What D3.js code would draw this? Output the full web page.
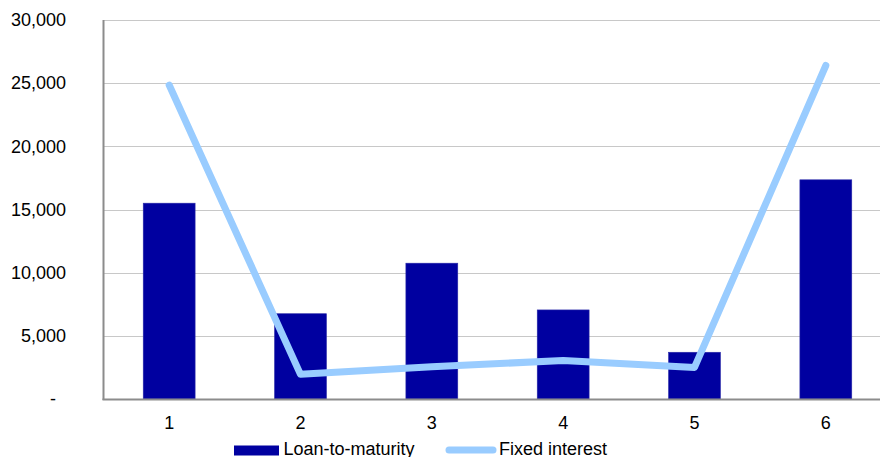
<!DOCTYPE html>
<html>
<head>
<meta charset="utf-8">
<script src="https://cdn.jsdelivr.net/npm/d3@7"></script>
<style>
  html, body { margin: 0; padding: 0; background: #fff; overflow: hidden; }
  text { font-family: "Liberation Sans", Arial, sans-serif; fill: #000; }
</style>
</head>
<body>
<svg id="chart" width="880" height="457"></svg>
<script>
// Periods on the category axis
const categories = ["1", "2", "3", "4", "5", "6"];
// Loan-to-maturity amounts (bars)
const loanToMaturity = [15500, 6750, 10750, 7050, 3700, 17350];
// Fixed interest amounts (line)
const fixedInterest = [24850, 1950, 2550, 3050, 2500, 26400];
// Value axis ticks
const yTicks = [0, 5000, 10000, 15000, 20000, 25000, 30000];
const seriesNames = ["Loan-to-maturity", "Fixed interest"];

const barColor = "#0000a0";
const lineColor = "#99ccff";
const fontSize = 18;

const svg = d3.select("#chart");
const plotLeft = 103.5, plotRight = 891.5, plotTop = 20, plotBottom = 399;

const x = d3.scaleBand()
  .domain(categories)
  .range([plotLeft, plotRight])
  .paddingInner(0.605)
  .paddingOuter(0.3025);

const y = d3.scaleLinear()
  .domain([0, 30000])
  .range([plotBottom, plotTop]);

const fmt = d3.format(",");

// Horizontal gridlines
svg.append("g")
  .selectAll("line")
  .data(yTicks.filter(d => d > 0))
  .join("line")
  .attr("x1", plotLeft)
  .attr("x2", plotRight)
  .attr("y1", d => Math.round(y(d)) + 0.5)
  .attr("y2", d => Math.round(y(d)) + 0.5)
  .attr("stroke", "#c8c8c8")
  .attr("stroke-width", 1.2);

// Value axis labels
const yAxis = d3.axisLeft(y)
  .tickValues(yTicks)
  .tickSize(0)
  .tickPadding(0)
  .tickFormat(d => d === 0 ? "-" : fmt(d));

const yg = svg.append("g")
  .attr("transform", "translate(66,0)")
  .call(yAxis);
yg.select(".domain").remove();
yg.selectAll("text")
  .attr("font-size", fontSize)
  .attr("font-family", "Liberation Sans, Arial, sans-serif")
  .attr("fill", "#000")
  .attr("dx", d => d === 0 ? -10 : 0);

// Bars
svg.append("g")
  .selectAll("rect")
  .data(loanToMaturity)
  .join("rect")
  .attr("x", (d, i) => x(categories[i]))
  .attr("y", d => y(d))
  .attr("width", x.bandwidth())
  .attr("height", d => y(0) - y(d))
  .attr("fill", barColor)
  .attr("stroke", "#2a2aa8")
  .attr("stroke-width", 0.6);

// Axis lines
svg.append("line")
  .attr("x1", plotLeft).attr("x2", plotLeft)
  .attr("y1", plotTop).attr("y2", plotBottom + 1)
  .attr("stroke", "#8c8c8c").attr("stroke-width", 2);
svg.append("line")
  .attr("x1", plotLeft - 1).attr("x2", plotRight)
  .attr("y1", plotBottom + 0.5).attr("y2", plotBottom + 0.5)
  .attr("stroke", "#8c8c8c").attr("stroke-width", 2);

// Fixed interest line
const line = d3.line()
  .x((d, i) => x(categories[i]) + x.bandwidth() / 2)
  .y(d => y(d));

svg.append("path")
  .datum(fixedInterest)
  .attr("d", line)
  .attr("fill", "none")
  .attr("stroke", lineColor)
  .attr("stroke-width", 7)
  .attr("stroke-linejoin", "round")
  .attr("stroke-linecap", "round");

// Category axis labels
const xAxis = d3.axisBottom(x).tickSize(0).tickPadding(0);
const xg = svg.append("g")
  .attr("transform", `translate(0,${plotBottom})`)
  .call(xAxis);
xg.select(".domain").remove();
xg.selectAll("text")
  .attr("font-size", fontSize)
  .attr("font-family", "Liberation Sans, Arial, sans-serif")
  .attr("fill", "#000")
  .attr("dy", null)
  .attr("y", 29.5);

// Legend
const legend = svg.append("g");
legend.append("rect")
  .attr("x", 234).attr("y", 445.5)
  .attr("width", 45).attr("height", 10)
  .attr("fill", barColor);
legend.append("text")
  .attr("x", 283.5).attr("y", 455)
  .attr("font-size", fontSize)
  .text(seriesNames[0]);
legend.append("line")
  .attr("x1", 449).attr("x2", 493)
  .attr("y1", 450).attr("y2", 450)
  .attr("stroke", lineColor)
  .attr("stroke-width", 7)
  .attr("stroke-linecap", "round");
legend.append("text")
  .attr("x", 499).attr("y", 455)
  .attr("font-size", fontSize)
  .text(seriesNames[1]);
</script>
</body>
</html>
